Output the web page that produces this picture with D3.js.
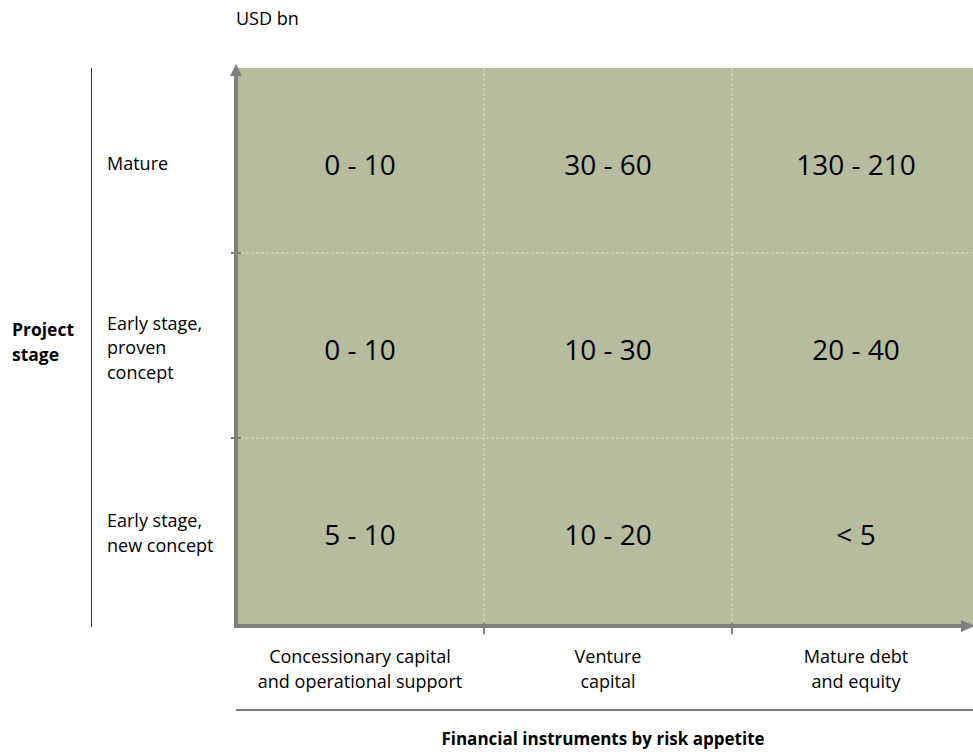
<!DOCTYPE html>
<html>
<head>
<meta charset="utf-8">
<script src="https://cdn.jsdelivr.net/npm/d3@7"></script>
<style>
  body { margin: 0; background: #fff; }
  svg text { font-family: "Open Sans", sans-serif; fill: #000; }
</style>
</head>
<body>
<svg width="973" height="754"></svg>
<script>
// instruments (x), stages (y, top to bottom), ranges in USD bn
var instruments = [["Concessionary capital", "and operational support"], ["Venture", "capital"], ["Mature debt", "and equity"]];
var stages = [["Mature"], ["Early stage,", "proven", "concept"], ["Early stage,", "new concept"]];
var mature = ["0 - 10", "30 - 60", "130 - 210"];
var earlyProven = ["0 - 10", "10 - 30", "20 - 40"];
var earlyNew = ["5 - 10", "10 - 20", "< 5"];
var ranges = [mature, earlyProven, earlyNew];

var svg = d3.select("svg"),
    pLeft = 236, pRight = 980, pTop = 68, pBottom = 623;

var x = d3.scaleBand().domain(d3.range(instruments.length)).range([pLeft, pRight]);
var y = d3.scaleBand().domain(d3.range(stages.length)).range([pTop, pBottom]);

// fond
svg.append("rect")
  .attr("x", pLeft).attr("y", pTop)
  .attr("width", 973 - pLeft).attr("height", pBottom - pTop + 3)
  .attr("fill", "#b7bc9f");

// grille pointillée
svg.selectAll(".vgrid").data(d3.range(1, instruments.length))
  .enter().append("line")
    .attr("x1", function(d) { return x(d); }).attr("x2", function(d) { return x(d); })
    .attr("y1", pTop).attr("y2", pBottom)
    .attr("stroke", "#dcdcd0").attr("stroke-width", 1).attr("stroke-dasharray", "3,2");

svg.selectAll(".hgrid").data(d3.range(1, stages.length))
  .enter().append("line")
    .attr("x1", pLeft).attr("x2", 973)
    .attr("y1", function(d) { return y(d); }).attr("y2", function(d) { return y(d); })
    .attr("stroke", "#dcdcd0").attr("stroke-width", 1).attr("stroke-dasharray", "3,2");

// valeurs
ranges.forEach(function(row, i) {
  svg.selectAll(".cell" + i).data(row)
    .enter().append("text")
      .attr("x", function(d, j) { return x(j) + x.bandwidth() / 2; })
      .attr("y", y(i) + y.bandwidth() / 2 + 14)
      .attr("text-anchor", "middle")
      .style("font-size", "28px")
      .text(function(d) { return d; });
});

// axes
var axisColor = "#808080";
svg.append("line")
  .attr("x1", pLeft).attr("x2", pLeft)
  .attr("y1", pBottom + 3).attr("y2", pTop + 6)
  .attr("stroke", axisColor).attr("stroke-width", 4);
svg.append("path")
  .attr("d", "M" + (pLeft - 6) + "," + (pTop + 8) + "L" + pLeft + "," + (pTop - 4) + "L" + (pLeft + 6) + "," + (pTop + 8) + "Z")
  .attr("fill", axisColor);

svg.append("line")
  .attr("x1", pLeft - 2).attr("x2", 965)
  .attr("y1", pBottom + 3).attr("y2", pBottom + 3)
  .attr("stroke", axisColor).attr("stroke-width", 4);
svg.append("path")
  .attr("d", "M961," + (pBottom - 3) + "L975," + (pBottom + 3) + "L961," + (pBottom + 9) + "Z")
  .attr("fill", axisColor);

// graduations
svg.selectAll(".xtick").data(d3.range(1, instruments.length))
  .enter().append("line")
    .attr("x1", function(d) { return x(d); }).attr("x2", function(d) { return x(d); })
    .attr("y1", pBottom).attr("y2", pBottom + 11)
    .attr("stroke", axisColor).attr("stroke-width", 2);
svg.selectAll(".ytick").data(d3.range(1, stages.length))
  .enter().append("line")
    .attr("x1", pLeft - 5).attr("x2", pLeft + 5)
    .attr("y1", function(d) { return y(d); }).attr("y2", function(d) { return y(d); })
    .attr("stroke", axisColor).attr("stroke-width", 2);

// labels colonnes
instruments.forEach(function(lines, j) {
  var t = svg.append("text")
    .attr("x", x(j) + x.bandwidth() / 2)
    .attr("y", 663)
    .attr("text-anchor", "middle")
    .style("font-size", "18px");
  lines.forEach(function(l, k) {
    t.append("tspan").attr("x", x(j) + x.bandwidth() / 2).attr("dy", k ? 25 : 0).text(l);
  });
});

// labels lignes
stages.forEach(function(lines, i) {
  var t = svg.append("text")
    .attr("x", 107)
    .attr("y", y(i) + y.bandwidth() / 2 + 9 - (lines.length - 1) * 12.5)
    .style("font-size", "18px");
  lines.forEach(function(l, k) {
    t.append("tspan").attr("x", 107).attr("dy", k ? 24.5 : 0).text(l);
  });
});

// séparateurs
svg.append("line")
  .attr("x1", 91.5).attr("x2", 91.5).attr("y1", 68).attr("y2", 627)
  .attr("stroke", "#333").attr("stroke-width", 1);
svg.append("line")
  .attr("x1", pLeft).attr("x2", 973).attr("y1", 710).attr("y2", 710)
  .attr("stroke", "#7f7f7f").attr("stroke-width", 2);

// titres
svg.append("text").attr("x", 236).attr("y", 25).style("font-size", "18px").text("USD bn");

var ps = svg.append("text").attr("x", 12).attr("y", 336)
  .style("font-size", "17.5px").style("font-weight", "bold");
ps.append("tspan").attr("x", 12).text("Project");
ps.append("tspan").attr("x", 12).attr("dy", 24.5).text("stage");

svg.append("text").attr("x", 603).attr("y", 745)
  .attr("text-anchor", "middle")
  .style("font-size", "17px").style("font-weight", "bold")
  .text("Financial instruments by risk appetite");
</script>
</body>
</html>
